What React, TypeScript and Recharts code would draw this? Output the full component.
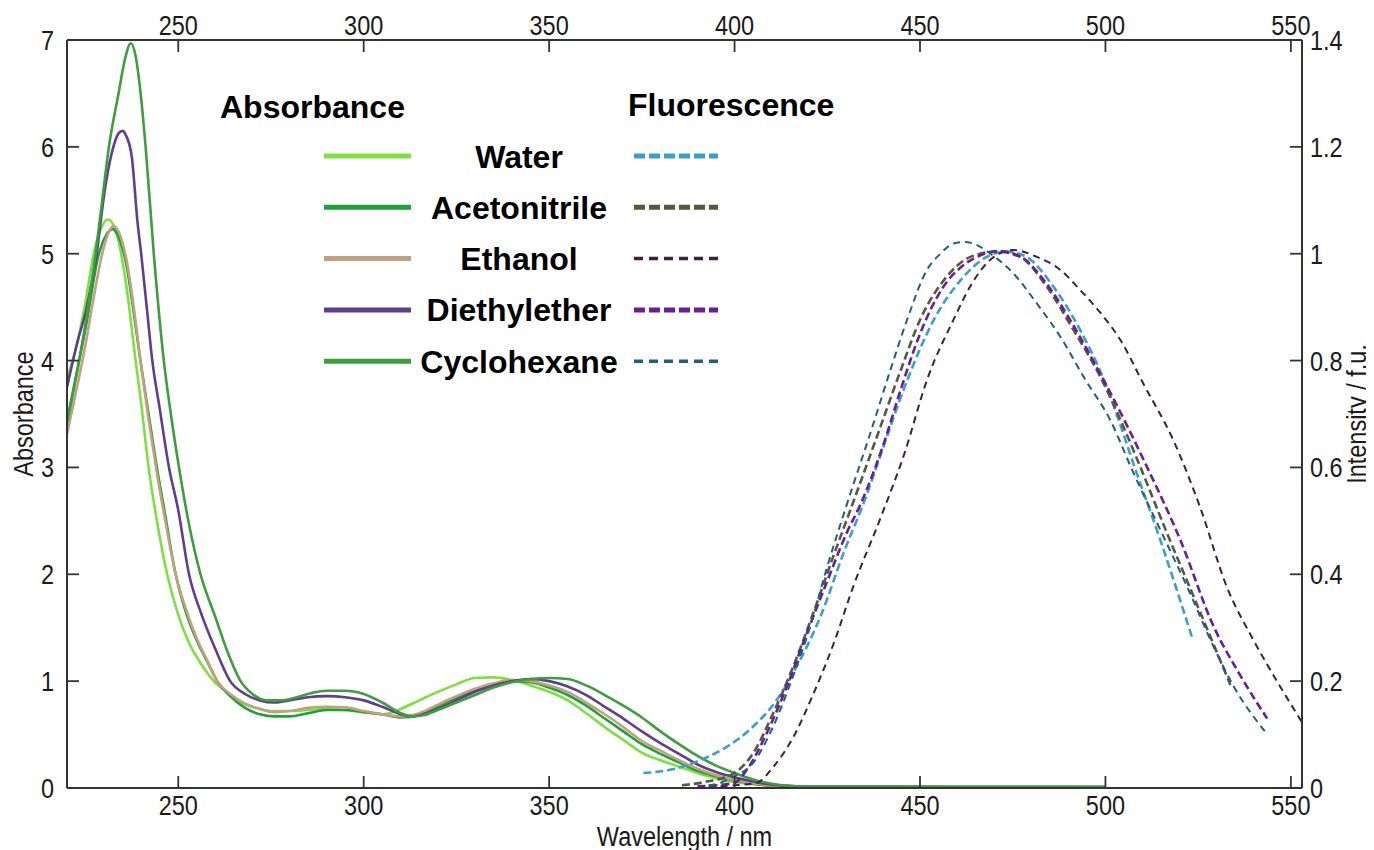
import React from 'react';
import { LineChart, Line, XAxis, YAxis, Legend, Label } from 'recharts';

type Pt = [number, number];

const xTicks = [250, 300, 350, 400, 450, 500, 550];
const absTicks = [0, 1, 2, 3, 4, 5, 6, 7];
const fluTicks = [0, 0.2, 0.4, 0.6, 0.8, 1, 1.2, 1.4];
const solvents = ['Water', 'Acetonitrile', 'Ethanol', 'Diethylether', 'Cyclohexane'];

// Absorbance spectra [wavelength nm, absorbance]
const absWater: Pt[] = [[220,3.83],[223,4.2],[225,4.55],[227.2,5.0],[229,5.22],[231,5.32],[232.5,5.27],[234,5.1],[236,4.7],[238.5,4.0],[240,3.6],[242,3.0],[244.5,2.45],[247,2.0],[250,1.62],[253,1.35],[256,1.17],[259.6,1.0],[263,0.9],[267,0.8],[271,0.75],[275,0.72],[280,0.72],[285,0.73],[290,0.74],[295,0.73],[300,0.71],[305,0.69],[307,0.7],[310,0.74],[315,0.82],[320,0.9],[325,0.97],[330,1.03],[335,1.035],[340,1.01],[345,0.96],[350,0.9],[355,0.82],[360,0.7],[365,0.57],[370,0.45],[375,0.33],[380,0.26],[385,0.2],[390,0.14],[395,0.09],[400,0.055],[405,0.035],[410,0.02],[420,0.012],[460,0.01],[500,0.01]];
const absAcetonitrile: Pt[] = [[220,3.44],[223,3.95],[225,4.3],[228.6,5.0],[230.5,5.17],[232.3,5.23],[234,5.15],[236,4.9],[238,4.45],[240,3.95],[242,3.5],[244,3.05],[246.5,2.55],[249,2.05],[252,1.65],[255,1.38],[258,1.17],[260.5,1.0],[264,0.86],[268,0.75],[272,0.69],[276,0.67],[280,0.67],[285,0.7],[290,0.73],[295,0.73],[300,0.71],[305,0.69],[310,0.66],[315,0.68],[320,0.76],[325,0.84],[330,0.91],[335,0.97],[340,1.0],[345,0.99],[350,0.94],[355,0.87],[360,0.77],[365,0.65],[370,0.53],[375,0.41],[380,0.32],[385,0.24],[390,0.16],[395,0.11],[400,0.07],[405,0.04],[410,0.022],[420,0.012],[460,0.01],[500,0.01]];
const absEthanol: Pt[] = [[220,3.31],[223,3.8],[225,4.15],[227,4.55],[229.5,5.0],[231,5.18],[232.5,5.26],[234,5.2],[236,4.95],[238,4.5],[240,3.95],[242,3.45],[244,3.0],[246.5,2.5],[249.3,2.0],[252,1.68],[255,1.4],[258,1.18],[260.5,1.0],[264,0.88],[268,0.79],[272,0.74],[276,0.71],[280,0.72],[285,0.75],[290,0.76],[295,0.755],[300,0.72],[305,0.69],[310,0.67],[315,0.7],[320,0.78],[325,0.86],[330,0.93],[335,0.98],[340,1.01],[345,1.0],[350,0.96],[355,0.9],[360,0.8],[365,0.69],[370,0.57],[375,0.44],[380,0.35],[385,0.26],[390,0.18],[395,0.12],[400,0.075],[405,0.045],[410,0.025],[420,0.012],[460,0.01],[500,0.01]];
const absDiethylether: Pt[] = [[220,3.75],[223,4.2],[225,4.45],[228,5.0],[230,5.55],[232.5,6.0],[234,6.13],[235,6.15],[236,6.1],[237.5,5.9],[239,5.3],[240,5.0],[241.5,4.5],[243,4.0],[245,3.55],[247.5,3.0],[250,2.6],[252.9,2.0],[256,1.65],[260,1.3],[264,1.0],[268,0.88],[272,0.82],[276,0.8],[280,0.82],[285,0.85],[290,0.86],[295,0.85],[300,0.82],[305,0.76],[310,0.69],[313,0.67],[316,0.69],[320,0.74],[325,0.82],[330,0.9],[335,0.96],[340,1.0],[345,1.02],[350,1.0],[355,0.95],[360,0.87],[365,0.76],[370,0.65],[375,0.53],[380,0.42],[385,0.32],[390,0.22],[395,0.15],[400,0.1],[405,0.06],[410,0.03],[415,0.018],[420,0.012],[460,0.01],[500,0.01]];
const absCyclohexane: Pt[] = [[220,3.41],[223,3.95],[225,4.35],[227.7,5.0],[229.5,5.5],[231.3,6.0],[233.9,6.5],[235.5,6.8],[237.2,6.97],[238.5,6.85],[240,6.45],[241.2,6.0],[243.4,5.0],[246.1,4.0],[248,3.5],[250.2,3.0],[253,2.45],[256,2.0],[260,1.6],[263,1.3],[266.8,1.0],[270,0.88],[274,0.82],[278,0.82],[282,0.85],[286,0.89],[290,0.91],[295,0.91],[300,0.88],[305,0.8],[310,0.7],[313,0.67],[316,0.68],[320,0.73],[325,0.8],[330,0.87],[335,0.94],[340,0.99],[345,1.02],[350,1.03],[355,1.02],[360,0.96],[365,0.87],[370,0.77],[375,0.66],[380,0.53],[385,0.41],[390,0.3],[395,0.21],[400,0.14],[405,0.08],[410,0.04],[415,0.02],[420,0.012],[460,0.01],[500,0.01]];

// Fluorescence spectra [wavelength nm, normalised intensity]
const fluWater: Pt[] = [[375.4,0.028],[382.6,0.034],[390.7,0.052],[397.9,0.077],[405,0.115],[411.4,0.165],[417.7,0.24],[423.1,0.32],[429.4,0.44],[435.7,0.55],[439.5,0.626],[446.6,0.764],[453.7,0.876],[460.9,0.95],[468,0.994],[473.4,1.004],[478.7,0.994],[486,0.938],[493.2,0.857],[500.4,0.75],[504,0.68],[507.5,0.608],[514.8,0.464],[523.3,0.283]];
const fluAcetonitrile: Pt[] = [[385.8,0.005],[392.5,0.012],[399.7,0.027],[405,0.065],[410.4,0.14],[415.8,0.227],[421.2,0.327],[426.6,0.433],[431.2,0.52],[438.4,0.658],[444.7,0.78],[450,0.876],[457.2,0.957],[463.6,0.994],[470.7,1.004],[477,0.994],[484.2,0.938],[491.4,0.857],[498.6,0.77],[504,0.69],[509.4,0.601],[516.6,0.477],[523.8,0.358],[533.7,0.193]];
const fluEthanol: Pt[] = [[393,0.003],[400,0.005],[406,0.01],[410.5,0.04],[415.9,0.096],[421.3,0.177],[426.7,0.27],[432,0.377],[439.5,0.508],[445.8,0.626],[451.9,0.764],[459,0.876],[464.5,0.95],[469.9,0.994],[475.2,1.007],[481.5,0.994],[487.8,0.97],[493.2,0.932],[499.5,0.882],[504,0.839],[510.2,0.757],[518.3,0.651],[525.5,0.526],[532.7,0.377],[539.9,0.277],[547.1,0.19],[552.9,0.124]];
const fluDiethylether: Pt[] = [[390,0.003],[399.7,0.009],[403.3,0.034],[408.7,0.103],[414.1,0.19],[419.5,0.29],[424.8,0.384],[430.2,0.477],[433.9,0.53],[440,0.64],[445,0.75],[450,0.85],[456,0.935],[462,0.98],[466,0.996],[471,1.005],[477,0.995],[484,0.945],[491,0.87],[498.6,0.775],[501.3,0.74],[511.2,0.601],[520.2,0.464],[529.2,0.302],[536,0.215],[543.6,0.13]];
const fluCyclohexane: Pt[] = [[393,0.005],[396,0.009],[399.6,0.021],[405,0.047],[410.4,0.115],[415.8,0.21],[420.3,0.3],[424.8,0.41],[430,0.525],[436.6,0.664],[442,0.782],[446.5,0.876],[451.9,0.97],[455.5,1.0],[459,1.019],[462,1.022],[464.4,1.019],[469,1.0],[475.2,0.963],[481.5,0.907],[487.8,0.845],[494.5,0.765],[501.2,0.69],[507.6,0.589],[514.8,0.483],[522,0.377],[529.2,0.264],[534.6,0.19],[543.1,0.105]];

const absSeries = [absWater, absAcetonitrile, absEthanol, absDiethylether, absCyclohexane];
const fluSeries = [fluWater, fluAcetonitrile, fluEthanol, fluDiethylether, fluCyclohexane];

const absColors = ['#7EE040', '#1EA03C', '#C4A07E', '#5E3E8E', '#3C9E3C'];
const fluColors = ['#3B9FC8', '#545A3A', '#3E2040', '#6A1E96', '#1E607E'];
const fluWidths = [2.6, 2.6, 2, 2.6, 2];
const fluDash = ['8 4', '8 4', '7 5', '8 4', '7 5'];
const legendFluWidths = [5, 5, 3.5, 5, 3.5];
const legendFluDash = ['11 4', '11 4', '9 6', '11 4', '9 6'];

const toPts = (arr: Pt[]) => arr.map(([x, y]) => ({ x, y }));

const W = 1366;
const H = 842;
const AX = '#333';
const TXT = '#1a1a1a';
const TL = 12;
const FF = "'Liberation Sans', Arial, Helvetica, sans-serif";
const FS = 27;
const SX = 0.87;

const NarrowText = ({ x, y, anchor, children }: any) => (
  <text transform={`translate(${x},${y}) scale(${SX},1)`} textAnchor={anchor} fontSize={FS} fontFamily={FF} fill={TXT}>
    {children}
  </text>
);

const BottomTick = (p: any) => (
  <g>
    <line x1={p.x} y1={p.y} x2={p.x} y2={p.y - TL} stroke={AX} strokeWidth={1.8} />
    <NarrowText x={p.x} y={p.y + 27} anchor="middle">{p.payload.value}</NarrowText>
  </g>
);
const TopTick = (p: any) => (
  <g>
    <line x1={p.x} y1={p.y} x2={p.x} y2={p.y + TL} stroke={AX} strokeWidth={1.8} />
    <NarrowText x={p.x} y={p.y - 5} anchor="middle">{p.payload.value}</NarrowText>
  </g>
);
const LeftTick = (p: any) => (
  <g>
    <line x1={p.x} y1={p.y} x2={p.x + TL} y2={p.y} stroke={AX} strokeWidth={1.8} />
    <NarrowText x={p.x - 13} y={p.y + 10} anchor="end">{p.payload.value}</NarrowText>
  </g>
);
const RightTick = (p: any) => (
  <g>
    <line x1={p.x} y1={p.y} x2={p.x - TL} y2={p.y} stroke={AX} strokeWidth={1.8} />
    <NarrowText x={p.x + 8} y={p.y + 10} anchor="start">{p.payload.value}</NarrowText>
  </g>
);

const LeftTitle = (props: any) => {
  const vb = props.viewBox || { x: 0, y: 32, width: 59, height: 748 };
  return (
    <text transform={`translate(${vb.x + 25},${vb.y + vb.height / 2}) rotate(-90) scale(${SX},1)`} textAnchor="middle" fontSize={FS} fontFamily={FF} fill={TXT}>
      Absorbance
    </text>
  );
};
const RightTitle = (props: any) => {
  const vb = props.viewBox || { x: 1294, y: 32, width: 72, height: 748 };
  return (
    <text transform={`translate(${vb.x + 64},${vb.y + vb.height / 2}) rotate(-90) scale(${SX},1)`} textAnchor="middle" fontSize={FS} fontFamily={FF} fill={TXT}>
      Intensity / f.u.
    </text>
  );
};
const BottomTitle = (props: any) => {
  const vb = props.viewBox || { x: 59, y: 780, width: 1235, height: 62 };
  return (
    <text transform={`translate(${vb.x + vb.width / 2},${vb.y + 58}) scale(${SX},1)`} textAnchor="middle" fontSize={FS} fontFamily={FF} fill={TXT}>
      Wavelength / nm
    </text>
  );
};

const LegendBox = () => (
  <svg width={W} height={420} style={{ display: 'block' }}>
    <text x={212} y={109.5} fontSize={32} fontWeight="bold" fontFamily={FF} fill="#000">Absorbance</text>
    <text x={620} y={107.5} fontSize={32} fontWeight="bold" fontFamily={FF} fill="#000">Fluorescence</text>
    {solvents.map((s, i) => {
      const cy = 148 + i * 51.3;
      return (
        <g key={s}>
          <line x1={316} x2={403} y1={cy} y2={cy} stroke={absColors[i]} strokeWidth={5} />
          <text x={511} y={cy + 11.5} textAnchor="middle" fontSize={32} fontWeight="bold" fontFamily={FF} fill="#000">{s}</text>
          <line x1={626} x2={710} y1={cy} y2={cy} stroke={fluColors[i]} strokeWidth={legendFluWidths[i]} strokeDasharray={legendFluDash[i]} />
        </g>
      );
    })}
  </svg>
);

export default function App() {
  return (
    <div>
      <style>{'html,body{overflow:hidden;background:#fff}'}</style>
      <LineChart width={W} height={H} margin={{ top: 0, right: 0, bottom: 0, left: 0 }}>
        <XAxis
          xAxisId="bottom"
          type="number"
          dataKey="x"
          orientation="bottom"
          domain={[220, 553]}
          ticks={xTicks}
          interval={0}
          height={62}
          tickSize={0}
          tickMargin={0}
          tickLine={false}
          axisLine={{ stroke: AX, strokeWidth: 2 }}
          tick={BottomTick}
          allowDataOverflow
        >
          <Label content={BottomTitle} />
        </XAxis>
        <XAxis
          xAxisId="top"
          type="number"
          dataKey="x"
          orientation="top"
          domain={[220, 553]}
          ticks={xTicks}
          interval={0}
          height={32}
          tickSize={0}
          tickMargin={0}
          tickLine={false}
          axisLine={{ stroke: AX, strokeWidth: 2 }}
          tick={TopTick}
          allowDataOverflow
        />
        <YAxis
          yAxisId="left"
          orientation="left"
          type="number"
          domain={[0, 7]}
          ticks={absTicks}
          interval={0}
          width={59}
          tickSize={0}
          tickMargin={0}
          tickLine={false}
          axisLine={{ stroke: AX, strokeWidth: 2 }}
          tick={LeftTick}
          allowDataOverflow
        >
          <Label content={LeftTitle} />
        </YAxis>
        <YAxis
          yAxisId="right"
          orientation="right"
          type="number"
          domain={[0, 1.4]}
          ticks={fluTicks}
          interval={0}
          width={72}
          tickSize={0}
          tickMargin={0}
          tickLine={false}
          axisLine={{ stroke: AX, strokeWidth: 2 }}
          tick={RightTick}
          allowDataOverflow
        >
          <Label content={RightTitle} />
        </YAxis>
        {absSeries.map((s, i) => (
          <Line
            key={'abs' + i}
            data={toPts(s)}
            dataKey="y"
            name={solvents[i] + ' abs'}
            xAxisId="bottom"
            yAxisId="left"
            type="monotone"
            stroke={absColors[i]}
            strokeWidth={2.6}
            dot={false}
            activeDot={false}
            isAnimationActive={false}
          />
        ))}
        {fluSeries.map((s, i) => (
          <Line
            key={'flu' + i}
            data={toPts(s)}
            dataKey="y"
            name={solvents[i] + ' fl'}
            xAxisId="top"
            yAxisId="right"
            type="monotone"
            stroke={fluColors[i]}
            strokeWidth={fluWidths[i]}
            strokeDasharray={fluDash[i]}
            dot={false}
            activeDot={false}
            isAnimationActive={false}
          />
        ))}
        <Legend
          layout="vertical"
          align="center"
          verticalAlign="middle"
          content={LegendBox}
          wrapperStyle={{ left: 0, top: 0, width: W, height: 420, pointerEvents: 'none' }}
        />
      </LineChart>
    </div>
  );
}
